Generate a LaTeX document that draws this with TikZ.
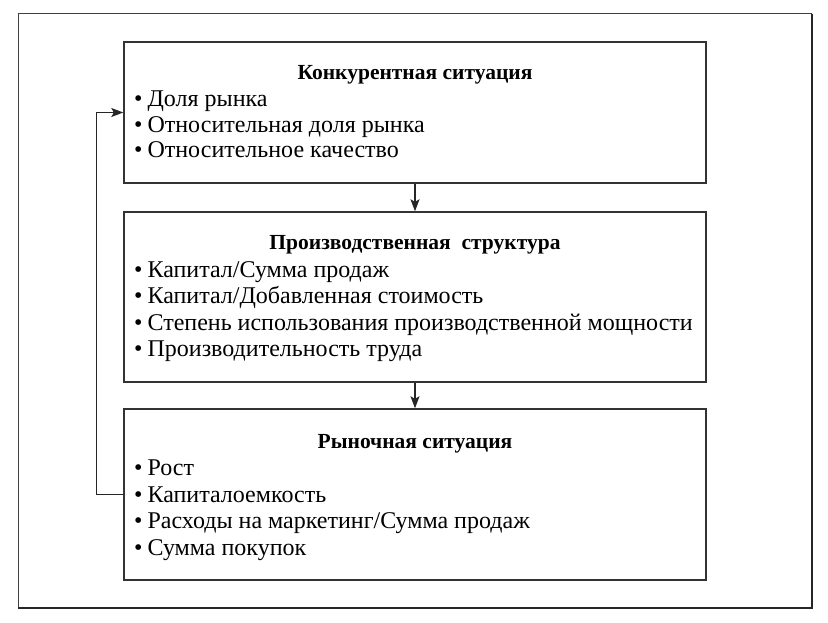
\documentclass[tikz,border=0pt]{standalone}
\usepackage{fontspec}
\setmainfont{Liberation Serif}
\usetikzlibrary{arrows.meta}
\begin{document}
\begin{tikzpicture}[x=1pt,y=-1pt,
  box/.style={draw=black!80,line width=1.4pt,minimum width=582pt,inner sep=0pt},
  ttl/.style={anchor=base,font=\fontsize{21.5}{21.5}\selectfont\bfseries},
  itm/.style={anchor=base west,inner sep=0pt,font=\fontsize{24}{24}\selectfont},
  arr/.style={draw=black!85,line width=1.2pt,-{Stealth[length=12pt,width=9pt,inset=2.5pt]}}]
\useasboundingbox (0,0) rectangle (828,623);
\draw[black!75,line width=1pt] (18,608) -- (18,14) -- (812,14);
\draw[black!85,line width=2pt] (18,608) -- (812,608) -- (812,14);
% boxes
\node[box,minimum height=141pt] (b1) at (415,112.5) {};
\node[box,minimum height=170pt] (b2) at (415,297) {};
\node[box,minimum height=171pt] (b3) at (415,494.5) {};
% box 1
\node[ttl] (t1) at (415,80) {Конкурентная ситуация};
\node[itm] (a1) at (134,107) {•\hspace{5pt}Доля рынка};
\node[itm] (a2) at (134,132.5) {•\hspace{5pt}Относительная доля рынка};
\node[itm] (a3) at (134,158) {•\hspace{5pt}Относительное качество};
% box 2
\node[ttl] (t2) at (415,250) {Производственная\ \ структура};
\node[itm] (c1) at (134,277) {•\hspace{5pt}Капитал/Сумма продаж};
\node[itm] (c2) at (134,303.5) {•\hspace{5pt}Капитал/Добавленная стоимость};
\node[itm] (c3) at (134,330) {•\hspace{5pt}Степень использования производственной мощности};
\node[itm] (c4) at (134,356.5) {•\hspace{5pt}Производительность труда};
% box 3
\node[ttl] (t3) at (415,448) {Рыночная ситуация};
\node[itm] (d1) at (134,475.5) {•\hspace{5pt}Рост};
\node[itm] (d2) at (134,502) {•\hspace{5pt}Капиталоемкость};
\node[itm] (d3) at (134,528.5) {•\hspace{5pt}Расходы на маркетинг/Сумма продаж};
\node[itm] (d4) at (134,555) {•\hspace{5pt}Сумма покупок};
% connectors
\draw[arr] (b1.south) -- (b2.north);
\draw[arr] (b2.south) -- (b3.north);
\draw[arr] (b3.west) -- ++(-27,0) |- (b1.west);
\end{tikzpicture}
\end{document}
